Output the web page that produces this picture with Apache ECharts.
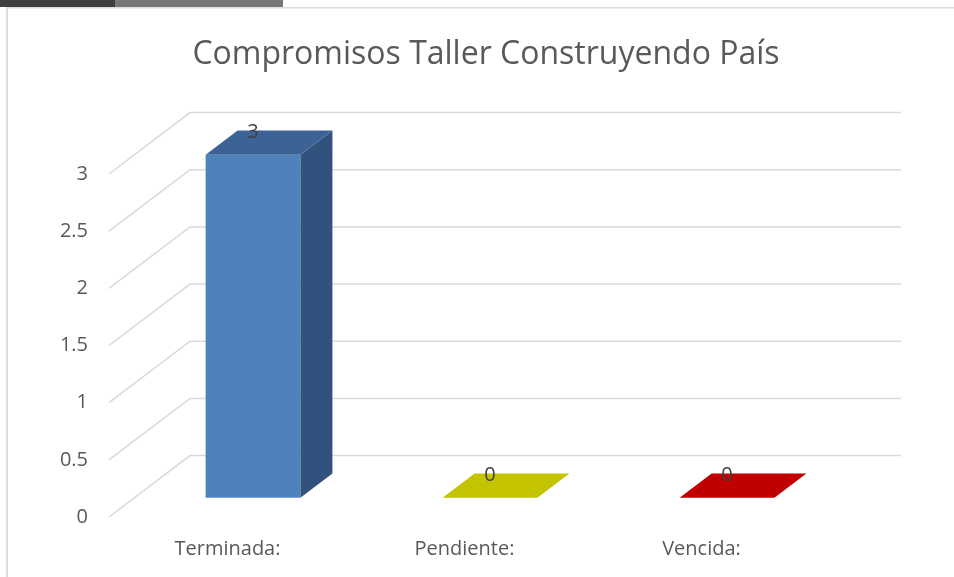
<!DOCTYPE html>
<html>
<head>
<meta charset="utf-8">
<script src="https://cdn.jsdelivr.net/npm/echarts@6/dist/echarts.min.js"></script>
<style>
html,body{margin:0;padding:0;background:#fff;}
#chart{width:954px;height:577px;}
</style>
</head>
<body>
<div id="chart"></div>
<script>
const titleText = 'Compromisos Taller Construyendo País';
const categories = ['Terminada:', 'Pendiente:', 'Vencida:'];
const values = [3, 0, 0];
const yTicks = [0, 0.5, 1, 1.5, 2, 2.5, 3];

const FONT = '"Open Sans", sans-serif';
const DX = 81, DY = -61.4;          // floor depth vector (px)
const FRONT = 0.315, BACK = 0.71;   // bar depth fractions
const BAR_W = 0.4;                  // bar width as fraction of band
const faceColors = [
  { front: '#4f81bd', top: '#3d6396', side: '#31527c' },
  { front: '#c3c300', top: '#c3c300', side: '#a5a500' },
  { front: '#c00000', top: '#c00000', side: '#a00000' }
];

const chart = echarts.init(document.getElementById('chart'), null, { renderer: 'canvas' });

const option = {
  animation: false,
  backgroundColor: '#ffffff',
  textStyle: { fontFamily: FONT },
  graphic: [
    { type: 'rect', shape: { x: 0, y: 0, width: 115, height: 7 }, style: { fill: '#3f3f3f' } },
    { type: 'rect', shape: { x: 115, y: 0, width: 168, height: 7 }, style: { fill: '#787878' } },
    { type: 'rect', shape: { x: 6, y: 7, width: 948, height: 1.5 }, style: { fill: '#dedede' } },
    { type: 'rect', shape: { x: 6, y: 7, width: 2, height: 570 }, style: { fill: '#dedede' } },
    { type: 'text', x: 486, y: 55, style: { text: titleText, font: '32px ' + FONT, fill: '#595959', align: 'center', verticalAlign: 'middle' } }
  ],
  grid: { left: 109, right: 134, top: 174, bottom: 60 },
  xAxis: {
    type: 'category',
    data: categories,
    axisLine: { show: false },
    axisTick: { show: false },
    axisLabel: { margin: 22, fontSize: 20, color: '#595959', fontFamily: FONT }
  },
  yAxis: {
    type: 'value',
    min: 0, max: 3, interval: 0.5,
    axisLine: { show: false },
    axisTick: { show: false },
    splitLine: { show: false },
    axisLabel: { margin: 21, fontSize: 20, color: '#595959', fontFamily: FONT, padding: [6, 0, 0, 0] }
  },
  series: [
    {
      type: 'custom',
      silent: true,
      z: 1,
      data: yTicks.map(v => [0, v]),
      renderItem: function (params, api) {
        const cs = params.coordSys;
        const y = api.coord([0, api.value(1)])[1];
        const x0 = cs.x, x1 = cs.x + cs.width;
        return {
          type: 'polyline',
          shape: { points: [[x0, y], [x0 + DX, y + DY], [x1 + DX, y + DY]] },
          style: { stroke: '#d9d9d9', lineWidth: 1.5, fill: null }
        };
      }
    },
    {
      type: 'custom',
      z: 2,
      data: values.map((v, i) => [i, v]),
      renderItem: function (params, api) {
        const i = api.value(0);
        const base = api.coord([i, 0]);
        const topP = api.coord([i, api.value(1)]);
        const band = api.size([1, 0])[0];
        const w = band * BAR_W;
        const fx = DX * FRONT, fy = DY * FRONT;
        const dx = DX * (BACK - FRONT), dy = DY * (BACK - FRONT);
        const x0 = base[0] - w / 2 + fx, x1 = x0 + w;
        const yb = base[1] + fy, yt = topP[1] + fy;
        const c = faceColors[i];
        return {
          type: 'group',
          children: [
            { type: 'polygon', shape: { points: [[x0, yb], [x1, yb], [x1, yt], [x0, yt]] }, style: { fill: c.front } },
            { type: 'polygon', shape: { points: [[x1, yb], [x1 + dx, yb + dy], [x1 + dx, yt + dy], [x1, yt]] }, style: { fill: c.side } },
            { type: 'polygon', shape: { points: [[x0, yt], [x1, yt], [x1 + dx, yt + dy], [x0 + dx, yt + dy]] }, style: { fill: c.top } },
            { type: 'text', x: base[0] + fx, y: yt + dy + 2, style: { text: String(api.value(1)), font: '20px ' + FONT, fill: '#404040', align: 'center', verticalAlign: 'middle' } }
          ]
        };
      }
    }
  ]
};
chart.setOption(option);
</script>
</body>
</html>
